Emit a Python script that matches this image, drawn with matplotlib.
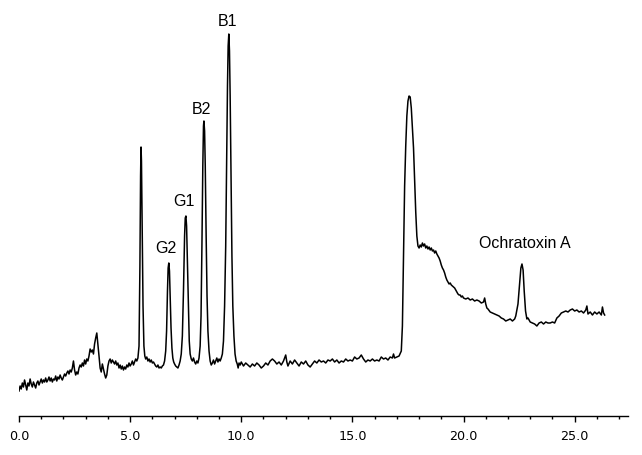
import matplotlib
matplotlib.use("Agg")
import matplotlib.pyplot as plt
from matplotlib.ticker import MultipleLocator, FormatStrFormatter

# chromatogram trace, (retention time in min, detector signal in a.u.)
early = [
    (0.00, 25), (0.05, 30), (0.10, 27), (0.15, 33), (0.20, 29), (0.25, 36),
    (0.30, 31), (0.35, 26), (0.40, 33), (0.45, 30), (0.50, 37), (0.55, 32),
    (0.60, 29), (0.65, 34), (0.70, 31), (0.75, 28), (0.80, 33), (0.85, 35),
    (0.90, 31), (0.95, 34), (1.00, 37), (1.05, 33), (1.10, 36), (1.15, 34),
    (1.20, 38), (1.25, 34), (1.30, 36), (1.35, 39), (1.40, 35), (1.45, 38),
    (1.50, 34), (1.55, 37), (1.60, 36), (1.65, 40), (1.70, 35), (1.75, 39),
    (1.80, 37), (1.85, 41), (1.90, 38), (1.95, 36), (2.00, 39), (2.05, 42),
    (2.10, 40), (2.15, 43), (2.20, 45), (2.25, 42), (2.30, 46), (2.35, 44),
    (2.40, 48), (2.45, 55), (2.50, 46), (2.55, 41), (2.60, 44), (2.65, 42),
    (2.70, 48), (2.75, 51), (2.80, 49), (2.85, 53), (2.90, 50), (2.95, 56),
    (3.00, 52), (3.05, 57), (3.10, 55), (3.15, 60), (3.20, 67), (3.25, 64),
    (3.30, 66), (3.35, 62), (3.40, 72), (3.45, 78), (3.50, 83), (3.55, 72),
    (3.60, 60), (3.65, 48), (3.70, 44), (3.75, 52), (3.80, 47), (3.85, 42),
    (3.90, 38), (3.95, 41), (4.00, 50), (4.05, 55), (4.10, 57), (4.15, 53),
    (4.20, 56), (4.25, 54), (4.30, 52), (4.35, 55), (4.40, 51), (4.45, 53),
    (4.50, 48), (4.55, 51), (4.60, 47), (4.65, 50), (4.70, 46), (4.75, 49),
    (4.80, 47), (4.85, 51), (4.90, 49), (4.95, 53), (5.00, 50), (5.05, 52),
    (5.10, 55), (5.15, 51), (5.20, 54), (5.25, 57), (5.30, 55), (5.35, 58),
]

aflatoxins = [
    (5.40, 70), (5.44, 150), (5.47, 240), (5.49, 269), (5.51, 255), (5.54, 190),
    (5.58, 110), (5.62, 70), (5.66, 60), (5.70, 57), (5.75, 59), (5.80, 55),
    (5.85, 57), (5.90, 54), (5.95, 56), (6.00, 53), (6.05, 54), (6.10, 52),
    (6.15, 50), (6.20, 49), (6.25, 51), (6.30, 48), (6.35, 49), (6.40, 48),
    (6.45, 50), (6.50, 51), (6.55, 55), (6.60, 65),
    # G2
    (6.64, 85), (6.68, 125), (6.71, 148), (6.74, 153), (6.77, 145), (6.80, 120),
    (6.84, 88), (6.88, 68), (6.92, 58), (6.96, 54), (7.00, 52), (7.05, 50),
    (7.10, 49), (7.15, 48), (7.20, 51), (7.25, 55), (7.30, 62),
    # G1
    (7.35, 80), (7.40, 125), (7.45, 180), (7.48, 198), (7.51, 200), (7.54, 190),
    (7.58, 150), (7.62, 105), (7.66, 75), (7.70, 62), (7.75, 57), (7.80, 55),
    (7.85, 58), (7.90, 54), (7.95, 52), (8.00, 55), (8.05, 53), (8.10, 58),
    (8.15, 70),
    # B2
    (8.19, 100), (8.23, 170), (8.27, 250), (8.30, 290), (8.32, 295), (8.35, 285),
    (8.38, 250), (8.42, 180), (8.46, 120), (8.50, 85), (8.55, 65), (8.60, 55),
    (8.65, 51), (8.70, 53), (8.75, 56), (8.80, 52), (8.85, 55), (8.90, 58),
    (8.95, 54), (9.00, 57), (9.05, 55), (9.10, 58), (9.15, 62),
    # B1
    (9.20, 75), (9.25, 110), (9.30, 170), (9.34, 250), (9.38, 330), (9.41, 370),
    (9.44, 382), (9.47, 365), (9.50, 320), (9.54, 240), (9.58, 160), (9.62, 110),
    (9.67, 80), (9.72, 62), (9.77, 55), (9.82, 52), (9.86, 48), (9.90, 53),
    (9.95, 51),
]

baseline = [
    (10.0, 54), (10.1, 50), (10.2, 53), (10.3, 51), (10.4, 49), (10.5, 52),
    (10.6, 50), (10.7, 53), (10.8, 51), (10.9, 48), (11.0, 50), (11.1, 53),
    (11.2, 51), (11.3, 55), (11.4, 57), (11.5, 55), (11.6, 52), (11.7, 54),
    (11.8, 51), (11.9, 55), (12.0, 61), (12.05, 54), (12.1, 50), (12.2, 55),
    (12.3, 52), (12.4, 56), (12.5, 53), (12.6, 50), (12.7, 54), (12.8, 52),
    (12.9, 55), (13.0, 51), (13.1, 49), (13.2, 52), (13.3, 55), (13.4, 53),
    (13.5, 56), (13.6, 54), (13.7, 55), (13.8, 53), (13.9, 56), (14.0, 55),
    (14.1, 57), (14.2, 54), (14.3, 56), (14.4, 53), (14.5, 55), (14.6, 54),
    (14.7, 57), (14.8, 55), (14.9, 56), (15.0, 55), (15.1, 59), (15.2, 57),
    (15.3, 58), (15.4, 61), (15.5, 57), (15.6, 54), (15.7, 56), (15.8, 55),
    (15.9, 57), (16.0, 55), (16.1, 56), (16.2, 55), (16.3, 59), (16.4, 57),
    (16.5, 58), (16.6, 56), (16.7, 59), (16.8, 58), (16.85, 62), (16.9, 58),
    (17.0, 59), (17.1, 60), (17.2, 65),
]

late = [
    (17.25, 90), (17.30, 160), (17.35, 230), (17.40, 270), (17.45, 300),
    (17.50, 315), (17.55, 320), (17.60, 319), (17.65, 308), (17.70, 288),
    (17.75, 268), (17.80, 235), (17.85, 204), (17.90, 180), (17.95, 170),
    (18.00, 168), (18.05, 171), (18.10, 169), (18.15, 173), (18.20, 170),
    (18.25, 172), (18.30, 168), (18.35, 170), (18.40, 167), (18.45, 169),
    (18.50, 166), (18.55, 168), (18.60, 165), (18.65, 166), (18.70, 163),
    (18.75, 165), (18.80, 162), (18.85, 160), (18.90, 158), (18.95, 155),
    (19.00, 151), (19.05, 148), (19.10, 146), (19.15, 143), (19.20, 139),
    (19.25, 136), (19.30, 134), (19.35, 132), (19.40, 133), (19.45, 131),
    (19.50, 130), (19.55, 129), (19.60, 128), (19.65, 126), (19.70, 124),
    (19.75, 122), (19.80, 121), (19.85, 121), (19.90, 119), (19.95, 120),
    (20.0, 118), (20.1, 117), (20.2, 118), (20.3, 116), (20.4, 117),
    (20.5, 115), (20.6, 116), (20.7, 115), (20.8, 113), (20.9, 114),
    (20.95, 118), (21.0, 112), (21.05, 108), (21.1, 107), (21.2, 104),
    (21.3, 103), (21.4, 102), (21.5, 101), (21.6, 100), (21.7, 98),
    (21.8, 97), (21.9, 95), (22.0, 96), (22.1, 97), (22.2, 95), (22.3, 97),
    # ochratoxin A
    (22.35, 100), (22.45, 112), (22.52, 132), (22.58, 148), (22.63, 152),
    (22.68, 146), (22.73, 125), (22.79, 105), (22.85, 97), (22.9, 98),
    (23.0, 94), (23.1, 93), (23.2, 92), (23.3, 90), (23.4, 93), (23.5, 94),
    (23.6, 92), (23.7, 94), (23.8, 93), (23.9, 93), (24.0, 94), (24.1, 93),
    (24.2, 98), (24.3, 100), (24.4, 103), (24.5, 104), (24.6, 105),
    (24.7, 104), (24.8, 106), (24.9, 107), (25.0, 105), (25.1, 106),
    (25.2, 104), (25.3, 105), (25.4, 103), (25.5, 106), (25.55, 110),
    (25.6, 102), (25.7, 104), (25.8, 101), (25.9, 104), (26.0, 102),
    (26.1, 104), (26.2, 101), (26.25, 109), (26.3, 103), (26.35, 101),
]

peak_names = ["G2", "G1", "B2", "B1", "Ochratoxin A"]
peak_label_x = [6.62, 7.44, 8.23, 9.40, 22.77]
peak_label_y = [168, 215, 308, 396, 173]

trace = early + aflatoxins + baseline + late
times = [p[0] for p in trace]
signal = [p[1] for p in trace]

fig = plt.figure(figsize=(6.42, 4.56), dpi=100)
ax = fig.add_axes([19 / 642, 39 / 456, 609 / 642, 407 / 456])

ax.plot(times, signal, color="black", lw=1.1)

for name, x, y in zip(peak_names, peak_label_x, peak_label_y):
    ax.text(x, y, name, ha="center", va="center", fontsize=11.5,
            family="Liberation Sans", color="black")

ax.set_xlim(0, 27.4)
ax.set_ylim(0, 407)

for s in ["top", "right", "left"]:
    ax.spines[s].set_visible(False)
ax.spines["bottom"].set_linewidth(1.0)
ax.set_yticks([])

ax.xaxis.set_major_locator(MultipleLocator(5))
ax.xaxis.set_minor_locator(MultipleLocator(1))
ax.xaxis.set_major_formatter(FormatStrFormatter("%.1f"))
ax.tick_params(axis="x", which="major", length=4, width=1.0, pad=5.5,
               labelsize=9.2, direction="out")
ax.tick_params(axis="x", which="minor", length=2, width=1.0, direction="out")

fig.savefig("out.png", dpi=100)
